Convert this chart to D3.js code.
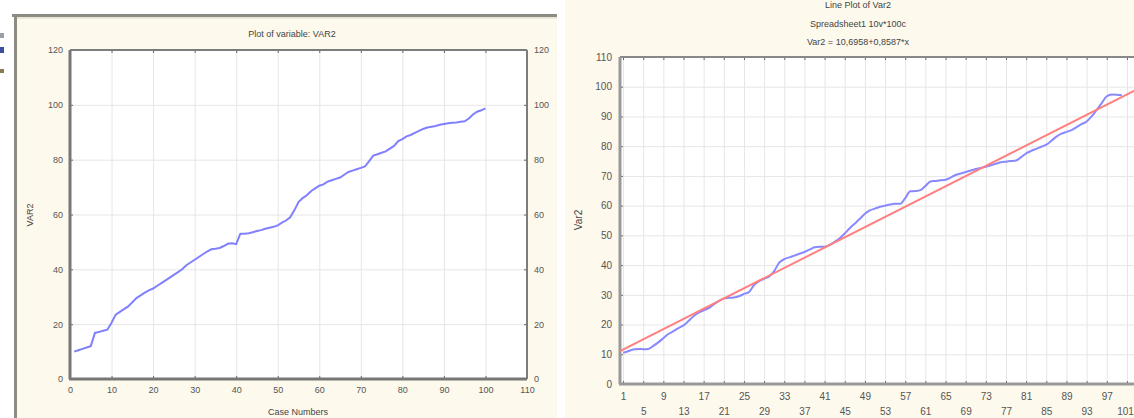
<!DOCTYPE html>
<html>
<head>
<meta charset="utf-8">
<script src="https://cdn.jsdelivr.net/npm/d3@7"></script>
<style>
  body { margin: 0; background: #fff; }
  svg { display: block; font-family: "Liberation Sans", Arial, sans-serif; }
</style>
</head>
<body>
<svg id="svg" width="1134" height="418"></svg>
<script>
"use strict";

// left window: Plot of variable VAR2
let leftCases = d3.range(1, 101);
let leftValues = [
	10, 10.5, 11, 11.5, 12, 16.8, 17.2, 17.6, 18, 20.5,
	23.5, 24.5, 25.5, 26.5, 28, 29.5, 30.5, 31.5, 32.3, 33,
	34, 35, 36, 37, 38, 39, 40, 41.5, 42.5, 43.5,
	44.5, 45.5, 46.5, 47.3, 47.5, 47.8, 48.5, 49.3, 49.5, 49.2,
	53, 53, 53.2, 53.5, 54, 54.3, 54.8, 55.2, 55.5, 56,
	57, 57.8, 59, 61.5, 64.5, 66, 67, 68.5, 69.5, 70.5,
	71, 72, 72.5, 73, 73.5, 74.5, 75.5, 76, 76.5, 77,
	77.5, 79.5, 81.5, 82, 82.5, 83, 84, 85, 86.8, 87.5,
	88.5, 89, 89.8, 90.5, 91.2, 91.7, 92, 92.3, 92.7, 93,
	93.3, 93.5, 93.6, 93.8, 94, 95, 96.5, 97.5, 98, 98.7
];
let leftXTicks = [0, 10, 20, 30, 40, 50, 60, 70, 80, 90, 100, 110];
let leftYTicks = [0, 20, 40, 60, 80, 100, 120];

// right window: Line Plot of Var2 with fitted line
let rightCases = d3.range(1, 101);
let rightValues = [
	10.5, 11, 11.6, 11.8, 11.7, 11.8, 12.8, 14, 15.4, 16.8,
	17.8, 18.8, 19.7, 21.2, 22.8, 24, 24.8, 25.5, 26.8, 27.9,
	28.8, 29, 29.1, 29.5, 30.3, 30.9, 33.3, 34.6, 35.4, 36.2,
	38, 40.8, 42, 42.6, 43.2, 43.8, 44.4, 45.2, 46, 46.2,
	46.2, 46.8, 47.8, 49, 50.6, 52.4, 54, 55.6, 57.3, 58.4,
	59, 59.6, 60, 60.4, 60.6, 60.6, 62.5, 64.8, 64.9, 65.2,
	66.6, 68.1, 68.3, 68.5, 68.7, 69.4, 70.3, 70.8, 71.3, 71.8,
	72.3, 72.7, 73.1, 73.6, 74.1, 74.6, 74.8, 75, 75.2, 76.3,
	77.6, 78.4, 79.1, 79.8, 80.5, 81.8, 83.2, 84.2, 84.8, 85.4,
	86.4, 87.4, 88.3, 90, 92.2, 94.5, 96.8, 97.4, 97.3, 97.1
];
let rightXTicks = [1, 5, 9, 13, 17, 21, 25, 29, 33, 37, 41, 45, 49, 53, 57, 61, 65, 69, 73, 77, 81, 85, 89, 93, 97, 101];
let rightYTicks = [0, 10, 20, 30, 40, 50, 60, 70, 80, 90, 100, 110];
let fitCoef = [10.6958, 0.8587];
let rightTitles = ["Line Plot of Var2", "Spreadsheet1 10v*100c", "Var2 = 10,6958+0,8587*x"];

var svg = d3.select("#svg");
let cream = "#fdf9ec";
let gridColor = "#e6e6e6";
let textColor = "#555";

// ---------- left panel ----------
svg.append("rect").attr("x", 15).attr("y", 15).attr("width", 542).attr("height", 403).attr("fill", cream);
svg.append("line").attr("x1", 12).attr("x2", 557).attr("y1", 15.5).attr("y2", 15.5)
	.attr("stroke", "#8c8c84").attr("stroke-width", 3);
svg.append("line").attr("x1", 15.5).attr("x2", 15.5).attr("y1", 14).attr("y2", 418)
	.attr("stroke", "#8c8c84").attr("stroke-width", 3);
svg.append("line").attr("x1", 17).attr("x2", 557).attr("y1", 18).attr("y2", 18)
	.attr("stroke", "#d8d4c4").attr("stroke-width", 1);

// small toolbar bits at the far left
svg.append("rect").attr("x", 0).attr("y", 33).attr("width", 4).attr("height", 5).attr("fill", "#9aa0a8");
svg.append("rect").attr("x", 0).attr("y", 47).attr("width", 4).attr("height", 6).attr("fill", "#3c4ea0");
svg.append("rect").attr("x", 0).attr("y", 69).attr("width", 4).attr("height", 4).attr("fill", "#8a7a50");

let lx = d3.scaleLinear().domain([0, 110]).range([70, 527]);
let ly = d3.scaleLinear().domain([0, 120]).range([379, 50]);

let left = svg.append("g").attr("class", "left-panel");
left.append("rect").attr("x", lx(0)).attr("y", ly(120))
	.attr("width", lx(110) - lx(0)).attr("height", ly(0) - ly(120)).attr("fill", "#fff");

left.append("g").attr("class", "grid")
	.attr("transform", "translate(0," + ly(0) + ")")
	.call(d3.axisBottom(lx).tickValues(leftXTicks).tickSize(-(ly(0) - ly(120))).tickFormat(""))
	.call(g => g.select(".domain").remove())
	.selectAll("line").attr("stroke", gridColor);
left.append("g").attr("class", "grid")
	.attr("transform", "translate(" + lx(0) + ",0)")
	.call(d3.axisLeft(ly).tickValues(leftYTicks).tickSize(-(lx(110) - lx(0))).tickFormat(""))
	.call(g => g.select(".domain").remove())
	.selectAll("line").attr("stroke", gridColor);

function styleAxis(g, size) {
	g.select(".domain").remove();
	g.selectAll(".tick line").attr("stroke", "#666");
	g.selectAll(".tick text").attr("fill", textColor).style("font-size", size + "px");
}

left.append("g").attr("transform", "translate(0," + ly(0) + ")")
	.call(d3.axisBottom(lx).tickValues(leftXTicks).tickSize(-3).tickPadding(8))
	.call(g => styleAxis(g, 9));
left.append("g").attr("transform", "translate(0," + ly(120) + ")")
	.call(d3.axisTop(lx).tickValues(leftXTicks).tickSize(-3).tickFormat(""))
	.call(g => styleAxis(g, 9));
left.append("g").attr("transform", "translate(" + lx(0) + ",0)")
	.call(d3.axisLeft(ly).tickValues(leftYTicks).tickSize(-3).tickPadding(7))
	.call(g => styleAxis(g, 9));
left.append("g").attr("transform", "translate(" + lx(110) + ",0)")
	.call(d3.axisRight(ly).tickValues(leftYTicks).tickSize(-3).tickPadding(7))
	.call(g => styleAxis(g, 9));

// frame of plot area
left.append("line").attr("x1", lx(0)).attr("x2", lx(110)).attr("y1", ly(120)).attr("y2", ly(120))
	.attr("stroke", "#7c7c7c").attr("stroke-width", 2);
left.append("line").attr("x1", lx(110)).attr("x2", lx(110)).attr("y1", ly(120)).attr("y2", ly(0))
	.attr("stroke", "#7c7c7c").attr("stroke-width", 2);
left.append("line").attr("x1", lx(0) - 1).attr("x2", lx(110)).attr("y1", ly(0)).attr("y2", ly(0))
	.attr("stroke", "#777").attr("stroke-width", 3);
left.append("line").attr("x1", lx(0)).attr("x2", lx(0)).attr("y1", ly(120)).attr("y2", ly(0))
	.attr("stroke", "#777").attr("stroke-width", 3);

let leftLine = d3.line()
	.x((d, i) => lx(leftCases[i]))
	.y(d => ly(d));
left.append("path").datum(leftValues)
	.attr("d", leftLine)
	.attr("fill", "none")
	.attr("stroke", "#8080ff")
	.attr("stroke-width", 2);

left.append("text").attr("x", 292).attr("y", 37).attr("text-anchor", "middle")
	.attr("fill", "#444").style("font-size", "9px").text("Plot of variable: VAR2");
left.append("text").attr("x", 298).attr("y", 415).attr("text-anchor", "middle")
	.attr("fill", "#444").style("font-size", "9px").text("Case Numbers");
left.append("text").attr("transform", "translate(33,215) rotate(-90)").attr("text-anchor", "middle")
	.attr("fill", "#444").style("font-size", "9px").text("VAR2");

// ---------- right panel ----------
svg.append("rect").attr("x", 565).attr("y", 0).attr("width", 569).attr("height", 418).attr("fill", cream);

let rx = d3.scaleLinear().domain([0.4, 102.6]).range([620, 1135]);
let ry = d3.scaleLinear().domain([0, 110]).range([384, 57]);

let right = svg.append("g").attr("class", "right-panel");
right.append("rect").attr("x", rx(0.4)).attr("y", ry(110))
	.attr("width", rx(102.6) - rx(0.4)).attr("height", ry(0) - ry(110)).attr("fill", "#fff");

right.append("g").attr("transform", "translate(0," + ry(0) + ")")
	.call(d3.axisBottom(rx).tickValues(rightXTicks).tickSize(-(ry(0) - ry(110))).tickFormat(""))
	.call(g => g.select(".domain").remove())
	.selectAll("line").attr("stroke", gridColor);
right.append("g").attr("transform", "translate(" + rx(0.4) + ",0)")
	.call(d3.axisLeft(ry).tickValues(rightYTicks).tickSize(-(rx(102.6) - rx(0.4))).tickFormat(""))
	.call(g => g.select(".domain").remove())
	.selectAll("line").attr("stroke", gridColor);

let bottomAxis = right.append("g").attr("transform", "translate(0," + ry(0) + ")")
	.call(d3.axisBottom(rx).tickValues(rightXTicks).tickSize(-3).tickPadding(9))
	.call(g => styleAxis(g, 10));
// alternate labels drop to a second row
bottomAxis.selectAll(".tick text").attr("dy", (d, i) => i % 2 ? "2.15em" : "0.71em");
// last label sits at the window edge, keep it inside
bottomAxis.selectAll(".tick text").filter(d => d === 101)
	.attr("text-anchor", "end").attr("dx", "0.65em");

right.append("g").attr("transform", "translate(0," + ry(110) + ")")
	.call(d3.axisTop(rx).tickValues(rightXTicks).tickSize(-3).tickFormat(""))
	.call(g => styleAxis(g, 10));
right.append("g").attr("transform", "translate(" + rx(0.4) + ",0)")
	.call(d3.axisLeft(ry).tickValues(rightYTicks).tickSize(-3).tickPadding(8))
	.call(g => styleAxis(g, 10));

right.append("line").attr("x1", rx(0.4)).attr("x2", 1134).attr("y1", ry(110)).attr("y2", ry(110))
	.attr("stroke", "#888").attr("stroke-width", 2);
right.append("line").attr("x1", rx(0.4) - 1).attr("x2", 1134).attr("y1", ry(0)).attr("y2", ry(0))
	.attr("stroke", "#999").attr("stroke-width", 3);
right.append("line").attr("x1", rx(0.4)).attr("x2", rx(0.4)).attr("y1", ry(110)).attr("y2", ry(0))
	.attr("stroke", "#999").attr("stroke-width", 3);

let rightLine = d3.line()
	.x((d, i) => rx(rightCases[i]))
	.y(d => ry(d))
	.curve(d3.curveMonotoneX);
right.append("path").datum(rightValues)
	.attr("d", rightLine)
	.attr("fill", "none")
	.attr("stroke", "#8888ff")
	.attr("stroke-width", 2);

let fitDomain = rx.domain();
right.append("path").datum(fitDomain)
	.attr("d", d3.line().x(d => rx(d)).y(d => ry(fitCoef[0] + fitCoef[1] * d)))
	.attr("fill", "none")
	.attr("stroke", "#ff7f7f")
	.attr("stroke-width", 2);

right.selectAll("text.title")
	.data(rightTitles)
	.enter()
	.append("text")
	.attr("class", "title")
	.attr("x", 858)
	.attr("y", (d, i) => 8 + i * 18.5)
	.attr("text-anchor", "middle")
	.attr("fill", "#444")
	.style("font-size", "9px")
	.text(d => d);

right.append("text").attr("transform", "translate(582,220) rotate(-90)").attr("text-anchor", "middle")
	.attr("fill", "#444").style("font-size", "10px").text("Var2");
</script>
</body>
</html>
